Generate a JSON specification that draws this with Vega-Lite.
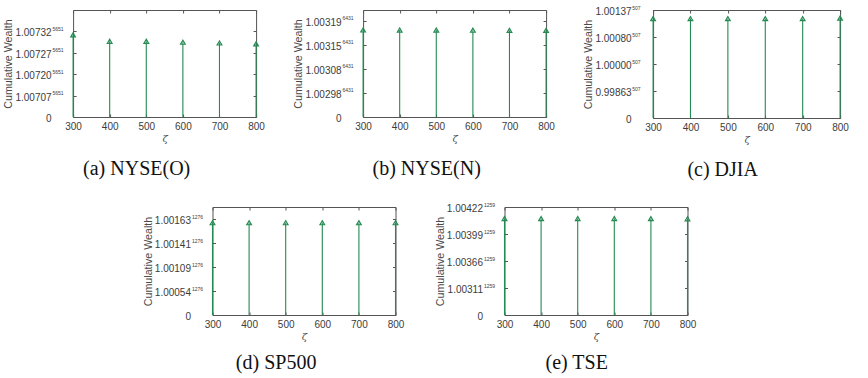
{
  "$schema": "https://vega.github.io/schema/vega-lite/v6.json",
  "padding": {"left": 2, "top": 4, "right": 5, "bottom": 2},
  "config": {
    "view": {"stroke": "#555555", "strokeWidth": 1},
    "axis": {
      "labelFont": "Liberation Sans",
      "labelFontSize": 10,
      "labelColor": "#3c3c3c",
      "labelFlush": false,
      "domain": false,
      "grid": false,
      "tickColor": "#555555",
      "tickSize": -3,
      "titleFont": "Liberation Sans",
      "titleFontWeight": "normal",
      "titleColor": "#4a4a4a",
      "titleFontSize": 10.7
    },
    "title": {
      "orient": "bottom",
      "font": "Liberation Serif",
      "fontSize": 20,
      "fontWeight": "normal",
      "color": "#111111",
      "anchor": "middle",
      "frame": "bounds",
      "offset": 15.5,
      "dx": 3
    }
  },
  "spacing": 20,
  "center": true,
  "vconcat": [
    {
      "spacing": 107,
      "bounds": "flush",
      "hconcat": [
        {
          "width": 183,
          "height": 107,
          "title": {"text": "(a) NYSE(O)"},
          "data": {"values": [
            {"zeta": 300, "wealth": 7.67e17},
            {"zeta": 400, "wealth": 7.08e17},
            {"zeta": 500, "wealth": 7.08e17},
            {"zeta": 600, "wealth": 6.99e17},
            {"zeta": 700, "wealth": 6.92e17},
            {"zeta": 800, "wealth": 6.83e17}
          ]},
          "resolve": {"axis": {"x": "independent", "y": "independent"}},
          "layer": [
            {
              "mark": {"type": "rule", "color": "#248a52", "strokeWidth": 1.1},
              "encoding": {
                "x": {"field": "zeta", "type": "quantitative", "scale": {"domain": [300, 800], "nice": false, "zero": false},
                  "axis": {"orient": "bottom", "values": [300, 400, 500, 600, 700, 800], "labelPadding": 7.5, "title": "ζ", "titleFont": "DejaVu Serif", "titleFontStyle": "italic", "titleFontSize": 10, "titlePadding": 2}},
                "y": {"field": "wealth", "type": "quantitative", "scale": {"domain": [0, 1e18], "nice": false},
                  "axis": {"orient": "left", "values": [0, 2e17, 4e17, 6e17, 8e17], "labelExpr": "['0','1.00707','1.00720','1.00727','1.00732'][round(datum.value / 2e17)]", "labelPadding": 25, "labelOffset": 1.5, "title": "Cumulative Wealth", "titlePadding": 1}},
                "y2": {"datum": 0}
              }
            },
            {
              "mark": {"type": "point", "shape": "triangle-up", "filled": false, "color": "#248a52", "strokeWidth": 1.2, "size": 22, "opacity": 1},
              "encoding": {
                "x": {"field": "zeta", "type": "quantitative", "axis": {"orient": "top", "values": [300, 400, 500, 600, 700, 800], "labels": false, "title": null}},
                "y": {"field": "wealth", "type": "quantitative",
                  "axis": {"orient": "left", "values": [0, 2e17, 4e17, 6e17, 8e17], "labelExpr": "datum.value == 0 ? '' : '5651'", "labelFontSize": 5, "labelPadding": 10, "labelOffset": -3, "ticks": false, "title": null}}
              }
            },
            {
              "mark": {"type": "point", "opacity": 0},
              "encoding": {
                "x": {"field": "zeta", "type": "quantitative", "axis": null},
                "y": {"field": "wealth", "type": "quantitative", "axis": {"orient": "right", "values": [0, 2e17, 4e17, 6e17, 8e17], "labels": false, "title": null}}
              }
            }
          ]
        },
        {
          "width": 183,
          "height": 107,
          "title": {"text": "(b) NYSE(N)"},
          "data": {"values": [
            {"zeta": 300, "wealth": 7.24e8},
            {"zeta": 400, "wealth": 7.23e8},
            {"zeta": 500, "wealth": 7.23e8},
            {"zeta": 600, "wealth": 7.22e8},
            {"zeta": 700, "wealth": 7.20e8},
            {"zeta": 800, "wealth": 7.20e8}
          ]},
          "resolve": {"axis": {"x": "independent", "y": "independent"}},
          "layer": [
            {
              "mark": {"type": "rule", "color": "#248a52", "strokeWidth": 1.1},
              "encoding": {
                "x": {"field": "zeta", "type": "quantitative", "scale": {"domain": [300, 800], "nice": false, "zero": false},
                  "axis": {"orient": "bottom", "values": [300, 400, 500, 600, 700, 800], "labelPadding": 7.5, "title": "ζ", "titleFont": "DejaVu Serif", "titleFontStyle": "italic", "titleFontSize": 10, "titlePadding": 2}},
                "y": {"field": "wealth", "type": "quantitative", "scale": {"domain": [0, 8.9e8], "nice": false},
                  "axis": {"orient": "left", "values": [0, 2e8, 4e8, 6e8, 8e8], "labelExpr": "['0','1.00298','1.00308','1.00315','1.00319'][round(datum.value / 2e8)]", "labelPadding": 25, "labelOffset": 1.5, "title": "Cumulative Wealth", "titlePadding": 1}},
                "y2": {"datum": 0}
              }
            },
            {
              "mark": {"type": "point", "shape": "triangle-up", "filled": false, "color": "#248a52", "strokeWidth": 1.2, "size": 22, "opacity": 1},
              "encoding": {
                "x": {"field": "zeta", "type": "quantitative", "axis": {"orient": "top", "values": [300, 400, 500, 600, 700, 800], "labels": false, "title": null}},
                "y": {"field": "wealth", "type": "quantitative",
                  "axis": {"orient": "left", "values": [0, 2e8, 4e8, 6e8, 8e8], "labelExpr": "datum.value == 0 ? '' : '6431'", "labelFontSize": 5, "labelPadding": 10, "labelOffset": -3, "ticks": false, "title": null}}
              }
            },
            {
              "mark": {"type": "point", "opacity": 0},
              "encoding": {
                "x": {"field": "zeta", "type": "quantitative", "axis": null},
                "y": {"field": "wealth", "type": "quantitative", "axis": {"orient": "right", "values": [0, 2e8, 4e8, 6e8, 8e8], "labels": false, "title": null}}
              }
            }
          ]
        },
        {
          "width": 187,
          "height": 108,
          "title": {"text": "(c) DJIA", "dx": 7},
          "data": {"values": [
            {"zeta": 300, "wealth": 1.84},
            {"zeta": 400, "wealth": 1.84},
            {"zeta": 500, "wealth": 1.84},
            {"zeta": 600, "wealth": 1.84},
            {"zeta": 700, "wealth": 1.84},
            {"zeta": 800, "wealth": 1.85}
          ]},
          "resolve": {"axis": {"x": "independent", "y": "independent"}},
          "layer": [
            {
              "mark": {"type": "rule", "color": "#248a52", "strokeWidth": 1.1},
              "encoding": {
                "x": {"field": "zeta", "type": "quantitative", "scale": {"domain": [300, 800], "nice": false, "zero": false},
                  "axis": {"orient": "bottom", "values": [300, 400, 500, 600, 700, 800], "labelPadding": 7.5, "title": "ζ", "titleFont": "DejaVu Serif", "titleFontStyle": "italic", "titleFontSize": 10, "titlePadding": 2}},
                "y": {"field": "wealth", "type": "quantitative", "scale": {"domain": [0, 2], "nice": false},
                  "axis": {"orient": "left", "values": [0, 0.5, 1, 1.5, 2], "labelExpr": "['0','0.99863','1.00000','1.00080','1.00137'][round(datum.value / 0.5)]", "labelPadding": 25, "labelOffset": 1.5, "title": "Cumulative Wealth", "titlePadding": 1}},
                "y2": {"datum": 0}
              }
            },
            {
              "mark": {"type": "point", "shape": "triangle-up", "filled": false, "color": "#248a52", "strokeWidth": 1.2, "size": 22, "opacity": 1},
              "encoding": {
                "x": {"field": "zeta", "type": "quantitative", "axis": {"orient": "top", "values": [300, 400, 500, 600, 700, 800], "labels": false, "title": null}},
                "y": {"field": "wealth", "type": "quantitative",
                  "axis": {"orient": "left", "values": [0, 0.5, 1, 1.5, 2], "labelExpr": "datum.value == 0 ? '' : '507'", "labelFontSize": 5, "labelPadding": 13, "labelOffset": -3, "ticks": false, "title": null}}
              }
            },
            {
              "mark": {"type": "point", "opacity": 0},
              "encoding": {
                "x": {"field": "zeta", "type": "quantitative", "axis": null},
                "y": {"field": "wealth", "type": "quantitative", "axis": {"orient": "right", "values": [0, 0.5, 1, 1.5, 2], "labels": false, "title": null}}
              }
            }
          ]
        }
      ]
    },
    {
      "spacing": 109,
      "bounds": "flush",
      "hconcat": [
        {
          "width": 183,
          "height": 108,
          "title": {"text": "(d) SP500", "offset": 11.5},
          "data": {"values": [
            {"zeta": 300, "wealth": 7.69},
            {"zeta": 400, "wealth": 7.69},
            {"zeta": 500, "wealth": 7.69},
            {"zeta": 600, "wealth": 7.69},
            {"zeta": 700, "wealth": 7.69},
            {"zeta": 800, "wealth": 7.69}
          ]},
          "resolve": {"axis": {"x": "independent", "y": "independent"}},
          "layer": [
            {
              "mark": {"type": "rule", "color": "#248a52", "strokeWidth": 1.1},
              "encoding": {
                "x": {"field": "zeta", "type": "quantitative", "scale": {"domain": [300, 800], "nice": false, "zero": false},
                  "axis": {"orient": "bottom", "values": [300, 400, 500, 600, 700, 800], "labelPadding": 7.5, "title": "ζ", "titleFont": "DejaVu Serif", "titleFontStyle": "italic", "titleFontSize": 10, "titlePadding": 2}},
                "y": {"field": "wealth", "type": "quantitative", "scale": {"domain": [0, 9], "nice": false},
                  "axis": {"orient": "left", "values": [0, 2, 4, 6, 8], "labelExpr": "['0','1.00054','1.00109','1.00141','1.00163'][round(datum.value / 2)]", "labelPadding": 25, "labelOffset": 1.5, "title": "Cumulative Wealth", "titlePadding": 1}},
                "y2": {"datum": 0}
              }
            },
            {
              "mark": {"type": "point", "shape": "triangle-up", "filled": false, "color": "#248a52", "strokeWidth": 1.2, "size": 22, "opacity": 1},
              "encoding": {
                "x": {"field": "zeta", "type": "quantitative", "axis": {"orient": "top", "values": [300, 400, 500, 600, 700, 800], "labels": false, "title": null}},
                "y": {"field": "wealth", "type": "quantitative",
                  "axis": {"orient": "left", "values": [0, 2, 4, 6, 8], "labelExpr": "datum.value == 0 ? '' : '1276'", "labelFontSize": 5, "labelPadding": 10, "labelOffset": -3, "ticks": false, "title": null}}
              }
            },
            {
              "mark": {"type": "point", "opacity": 0},
              "encoding": {
                "x": {"field": "zeta", "type": "quantitative", "axis": null},
                "y": {"field": "wealth", "type": "quantitative", "axis": {"orient": "right", "values": [0, 2, 4, 6, 8], "labels": false, "title": null}}
              }
            }
          ]
        },
        {
          "width": 183,
          "height": 108,
          "title": {"text": "(e) TSE", "offset": 11.5, "dx": 5},
          "data": {"values": [
            {"zeta": 300, "wealth": 178.6},
            {"zeta": 400, "wealth": 178.6},
            {"zeta": 500, "wealth": 178.6},
            {"zeta": 600, "wealth": 178.6},
            {"zeta": 700, "wealth": 178.4},
            {"zeta": 800, "wealth": 178.2}
          ]},
          "resolve": {"axis": {"x": "independent", "y": "independent"}},
          "layer": [
            {
              "mark": {"type": "rule", "color": "#248a52", "strokeWidth": 1.1},
              "encoding": {
                "x": {"field": "zeta", "type": "quantitative", "scale": {"domain": [300, 800], "nice": false, "zero": false},
                  "axis": {"orient": "bottom", "values": [300, 400, 500, 600, 700, 800], "labelPadding": 7.5, "title": "ζ", "titleFont": "DejaVu Serif", "titleFontStyle": "italic", "titleFontSize": 10, "titlePadding": 2}},
                "y": {"field": "wealth", "type": "quantitative", "scale": {"domain": [0, 200], "nice": false},
                  "axis": {"orient": "left", "values": [0, 50, 100, 150, 200], "labelExpr": "['0','1.00311','1.00366','1.00399','1.00422'][round(datum.value / 50)]", "labelPadding": 25, "labelOffset": 1.5, "title": "Cumulative Wealth", "titlePadding": 1}},
                "y2": {"datum": 0}
              }
            },
            {
              "mark": {"type": "point", "shape": "triangle-up", "filled": false, "color": "#248a52", "strokeWidth": 1.2, "size": 22, "opacity": 1},
              "encoding": {
                "x": {"field": "zeta", "type": "quantitative", "axis": {"orient": "top", "values": [300, 400, 500, 600, 700, 800], "labels": false, "title": null}},
                "y": {"field": "wealth", "type": "quantitative",
                  "axis": {"orient": "left", "values": [0, 50, 100, 150, 200], "labelExpr": "datum.value == 0 ? '' : '1259'", "labelFontSize": 5, "labelPadding": 10, "labelOffset": -3, "ticks": false, "title": null}}
              }
            },
            {
              "mark": {"type": "point", "opacity": 0},
              "encoding": {
                "x": {"field": "zeta", "type": "quantitative", "axis": null},
                "y": {"field": "wealth", "type": "quantitative", "axis": {"orient": "right", "values": [0, 50, 100, 150, 200], "labels": false, "title": " ", "titlePadding": 10}}
              }
            }
          ]
        }
      ]
    }
  ]
}
